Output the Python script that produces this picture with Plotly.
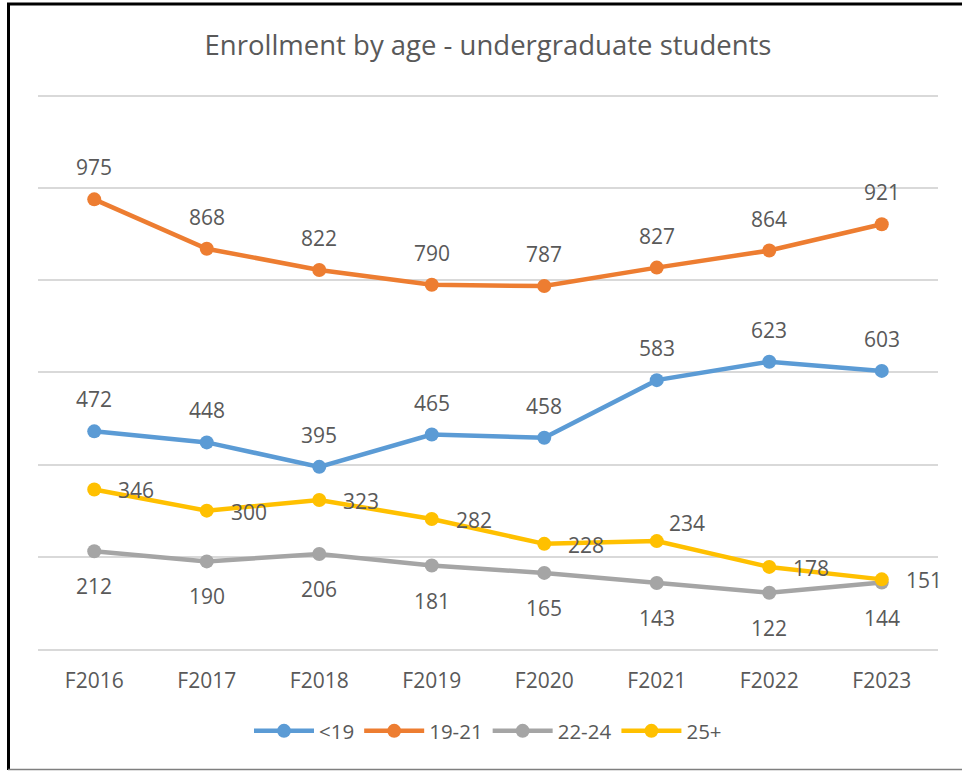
import plotly.graph_objects as go

categories = ["F2016", "F2017", "F2018", "F2019", "F2020", "F2021", "F2022", "F2023"]
under19 = [472, 448, 395, 465, 458, 583, 623, 603]
age19_21 = [975, 868, 822, 790, 787, 827, 864, 921]
age22_24 = [212, 190, 206, 181, 165, 143, 122, 144]
age25plus = [346, 300, 323, 282, 228, 234, 178, 151]
series_names = ["<19", "19-21", "22-24", "25+"]

W, H = 962, 771
ML, MR, MT, MB = 38, 24, 91, 122
PW, PH = W - ML - MR, H - MT - MB
YMAX = 1210

TEXT = "#595959"
FONT = "Open Sans"
colors = ["#5B9BD5", "#ED7D31", "#A5A5A5", "#FFC000"]
series = [under19, age19_21, age22_24, age25plus]

fig = go.Figure()
for name, vals, col in zip(series_names, series, colors):
    fig.add_trace(go.Scatter(
        x=categories, y=vals, name=name, mode="lines+markers",
        line=dict(color=col, width=4.5),
        marker=dict(color=col, size=14),
        hoverinfo="x+y+name",
    ))

annotations = []
def lab(x, v, xs=0, ys=0, xa="center"):
    annotations.append(dict(x=x, y=v, xref="x", yref="y", text=str(v), showarrow=False,
                            xanchor=xa, yanchor="middle", xshift=xs, yshift=ys,
                            font=dict(family=FONT, size=21, color=TEXT)))

for c, v in zip(categories, under19):
    lab(c, v, ys=32)
for c, v in zip(categories, age19_21):
    lab(c, v, ys=32)
for c, v in zip(categories, age22_24):
    lab(c, v, ys=-35)
for c, v in zip(categories, age25plus):
    if c == "F2021":
        lab(c, v, xs=10, ys=18, xa="left")
    else:
        lab(c, v, xs=22, ys=-1, xa="left")

def px_x(p):
    return (p - ML) / PW
def px_y(p):
    return (H - MB - p) / PH

shapes = [
    dict(type="line", xref="paper", yref="paper", x0=px_x(7), x1=px_x(962), y0=px_y(4), y1=px_y(4),
         line=dict(color="#000000", width=3)),
    dict(type="line", xref="paper", yref="paper", x0=px_x(8.5), x1=px_x(8.5), y0=px_y(3), y1=px_y(770),
         line=dict(color="#000000", width=3)),
    dict(type="line", xref="paper", yref="paper", x0=px_x(8), x1=px_x(962), y0=px_y(769.5), y1=px_y(769.5),
         line=dict(color="#7F7F7F", width=1.5)),
]

fig.update_layout(
    width=W, height=H,
    margin=dict(l=ML, r=MR, t=MT, b=MB),
    paper_bgcolor="white", plot_bgcolor="white",
    title=dict(text="Enrollment by age - undergraduate students", x=(ML + PW / 2) / W, xanchor="center",
               y=1 - 45 / H, yanchor="middle", yref="container",
               font=dict(family=FONT, size=27.5, color=TEXT)),
    font=dict(family=FONT, color=TEXT),
    showlegend=True,
    legend=dict(orientation="h", x=0.5, xanchor="center", y=px_y(731), yanchor="middle",
                font=dict(family=FONT, size=20.5, color=TEXT), itemwidth=60,
                traceorder="normal"),
    annotations=annotations,
    shapes=shapes,
    xaxis=dict(type="category", range=[-0.5, 7.5], showgrid=False, showline=True,
               linecolor="#D9D9D9", linewidth=2, ticks="", zeroline=False,
               tickfont=dict(family=FONT, size=21, color=TEXT), ticklabelstandoff=12),
    yaxis=dict(range=[0, YMAX], dtick=200, showticklabels=False, showgrid=True,
               gridcolor="#D9D9D9", gridwidth=2, zeroline=False, showline=False),
)

fig.write_html("out.html", config={"displayModeBar": False},
               post_script="document.body.style.margin='0px';")
